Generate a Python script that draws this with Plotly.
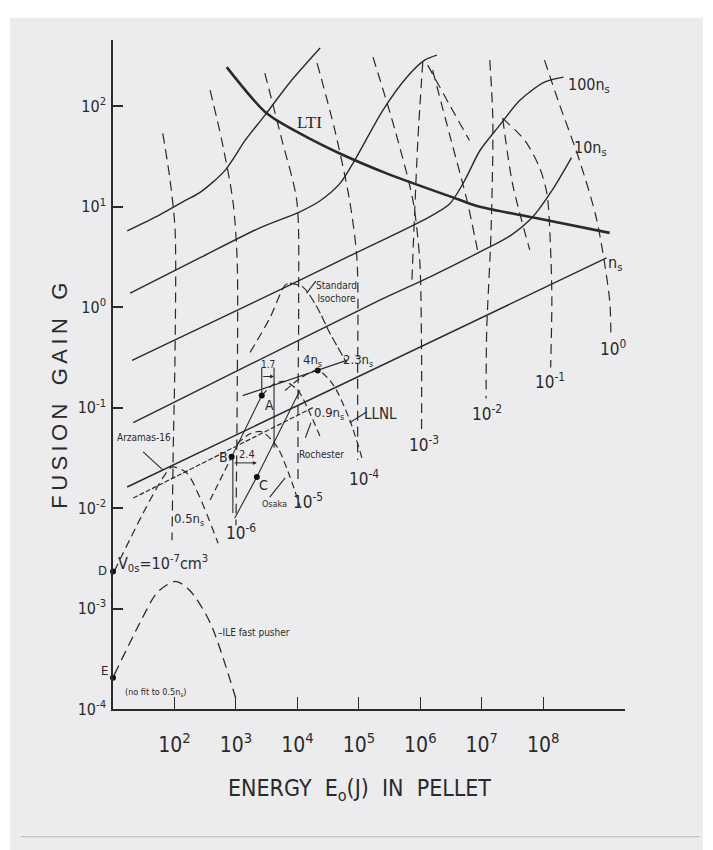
import numpy as np
import plotly.graph_objects as go

# ---------------- data (decade exponents) ----------------
# log10 of pellet energy E0 (J) and log10 of fusion gain G
lti_logE = [2.85, 3.50, 4.04, 4.69, 5.46, 6.59, 6.97, 7.86, 9.08]
lti_logG = [2.39, 1.93, 1.73, 1.53, 1.33, 1.08, 1.00, 0.89, 0.74]

s1_logE = [1.23, 1.76, 2.17, 2.41, 2.82, 3.15, 3.47, 3.88, 4.37]
s1_logG = [0.76, 0.92, 1.06, 1.14, 1.36, 1.66, 1.91, 2.24, 2.58]

s2_logE = [1.28, 2.41, 3.39, 4.04, 4.37, 4.69, 4.93, 5.39, 5.78, 6.07, 6.27]
s2_logG = [0.14, 0.49, 0.79, 0.95, 1.06, 1.23, 1.46, 1.96, 2.29, 2.46, 2.51]

ns100_logE = [1.31, 3.23, 4.85, 6.15, 6.48, 6.72, 6.97, 7.29, 7.62, 8.02, 8.33]
ns100_logG = [-0.53, 0.03, 0.51, 0.90, 1.03, 1.26, 1.56, 1.81, 2.06, 2.24, 2.29]

ns10_logE = [1.33, 3.23, 5.34, 6.15, 6.97, 7.46, 7.83, 8.14, 8.46]
ns10_logG = [-1.15, -0.57, 0.07, 0.30, 0.55, 0.71, 0.90, 1.16, 1.49]

ns1_logE = [1.23, 9.03]
ns1_logG = [-1.79, 0.49]

ns09_logE = [1.33, 4.25]
ns09_logG = [-1.90, -1.00]

ns23_logE = [3.11, 4.80]
ns23_logG = [-0.88, -0.53]

# volume contours V0s = 1e-7 ... 1e0 cm^3
vol_exponents = [-7, -6, -5, -4, -3, -2, -1, 0]
cm7_logE = [1.81, 1.93, 2.01, 2.01, 1.98, 1.96]
cm7_logG = [1.73, 1.26, 0.77, -0.43, -1.42, -2.32]
cm6_logE = [2.58, 2.77, 2.95, 3.02, 3.02, 3.00]
cm6_logG = [2.16, 1.66, 1.06, 0.47, -0.93, -2.17]
cm5_logE = [3.47, 3.75, 3.99, 4.02, 4.01, 4.01]
cm5_logG = [2.33, 1.66, 1.06, 0.07, -0.93, -1.72]
cm4_logE = [4.32, 4.61, 4.85, 4.97, 4.98, 4.98]
cm4_logG = [2.43, 1.76, 1.06, 0.47, -0.73, -1.52]
cm3_logE = [5.23, 5.59, 5.88, 5.99, 6.02, 6.02]
cm3_logG = [2.49, 1.76, 1.06, 0.47, -0.43, -1.22]
cm2_logE = [7.13, 7.18, 7.15, 7.08, 7.07]
cm2_logG = [2.46, 1.86, 0.74, -0.23, -0.91]
cm1_logE = [7.34, 7.70, 7.94, 8.06, 8.12, 8.14, 8.12]
cm1_logG = [1.88, 1.66, 1.39, 1.13, 0.57, 0.07, -0.60]
c0_logE = [8.02, 8.24, 8.59, 8.87, 9.08, 9.10]
c0_logG = [2.46, 2.06, 1.46, 0.87, 0.07, -0.30]

# extra dashed lines fanning out from the ignition vertices
fanA_logE = [6.04, 5.96, 5.86]
fanA_logG = [2.44, 1.66, 0.22]
fanB_logE = [6.12, 6.48, 6.80]
fanB_logG = [2.41, 2.01, 1.66]
fanC_logE = [6.20, 6.48, 6.76, 6.93]
fanC_logG = [2.36, 1.71, 1.06, 0.57]
fanD_logE = [7.34, 7.50, 7.78]
fanD_logG = [1.88, 1.23, 0.57]

# experiment / model curves
iso_logE = [3.23, 3.55, 3.80, 3.88, 4.09, 4.32, 4.53, 4.80]
iso_logG = [-0.45, -0.11, 0.22, 0.24, 0.20, 0.00, -0.26, -0.55]
llnl_logE = [3.80, 4.04, 4.33, 4.58, 4.85, 5.05]
llnl_logG = [-0.83, -0.71, -0.63, -0.77, -1.12, -1.50]
roch_logE = [3.42, 3.63, 3.80, 4.01, 4.20, 4.37]
roch_logG = [-0.88, -0.76, -0.74, -0.83, -1.05, -1.29]
osaka_logE = [3.02, 3.23, 3.42, 3.67, 3.88, 4.04]
osaka_logG = [-1.36, -1.26, -1.24, -1.39, -1.69, -1.98]
arz_logE = [1.02, 1.49, 1.81, 1.96, 2.20, 2.41, 2.71]
arz_logG = [-2.63, -2.05, -1.70, -1.59, -1.65, -1.89, -2.35]
ile_logE = [1.02, 1.44, 1.72, 2.02, 2.25, 2.58, 3.02]
ile_logG = [-3.66, -3.14, -2.84, -2.73, -2.82, -3.14, -3.94]

toB_logE = [2.58, 2.93]
toB_logG = [-1.92, -1.49]
BA_logE = [2.93, 3.42]
BA_logG = [-1.49, -0.88]
Cline_logE = [2.98, 3.34, 4.04]
Cline_logG = [-2.10, -1.69, -0.83]
Bvert_logE = [2.95, 2.95]
Bvert_logG = [-1.49, -2.05]
Avert_logE = [3.42, 3.42]
Avert_logG = [-0.88, -0.60]
Rvert_logE = [3.62, 3.62]
Rvert_logG = [-0.60, -1.40]

# marked points
pt_names = ["A", "B", "C", "D", "E", ""]
pt_logE = [3.42, 2.93, 3.34, 1.00, 1.00, 4.33]
pt_logG = [-0.88, -1.49, -1.69, -2.63, -3.69, -0.63]

# pointer strokes of labels
ptr_osaka = ([3.55, 3.80], [-1.89, -1.70])
ptr_roch = ([4.13, 4.22], [-1.30, -1.15])
ptr_llnl = ([4.85, 5.13], [-1.15, -1.04])
ptr_iso = ([4.15, 4.30], [0.14, 0.26])
ptr_arz = ([1.49, 1.81], [-1.44, -1.62])

x_tick_exp = [2, 3, 4, 5, 6, 7, 8]
y_tick_exp = [-4, -3, -2, -1, 0, 1, 2]

# ---------------- figure ----------------
INK = "#2a2a2a"
NARROW = "Liberation Sans Narrow, DejaVu Sans Condensed, Arial Narrow, sans-serif"

fig = go.Figure()


def P(v):
    return np.power(10.0, np.asarray(v, dtype=float))


def add(le, lg, width=1.3, dash="solid", shape="spline", color=INK):
    fig.add_trace(go.Scatter(x=P(le), y=P(lg), mode="lines",
                             line=dict(color=color, width=width, dash=dash, shape=shape,
                                       smoothing=0.8),
                             hoverinfo="skip", showlegend=False))


# density curves (solid)
for le, lg in [(s1_logE, s1_logG), (s2_logE, s2_logG), (ns100_logE, ns100_logG),
               (ns10_logE, ns10_logG)]:
    add(le, lg, width=1.4)
add(ns1_logE, ns1_logG, width=1.4, shape="linear")
add(ns23_logE, ns23_logG, width=1.2, shape="linear")
add(ns09_logE, ns09_logG, width=1.2, dash="5px,2px", shape="linear")
# LTI (thick)
add(lti_logE, lti_logG, width=2.6)

# volume contours (long dashes)
for le, lg in [(cm7_logE, cm7_logG), (cm6_logE, cm6_logG), (cm5_logE, cm5_logG),
               (cm4_logE, cm4_logG), (cm3_logE, cm3_logG), (cm2_logE, cm2_logG),
               (cm1_logE, cm1_logG), (c0_logE, c0_logG),
               (fanA_logE, fanA_logG), (fanB_logE, fanB_logG),
               (fanC_logE, fanC_logG), (fanD_logE, fanD_logG)]:
    add(le, lg, width=1.2, dash="10px,6px")

# model / experiment curves
add(iso_logE[:4], iso_logG[:4], width=1.2, dash="9px,5px")
add(iso_logE[3:], iso_logG[3:], width=1.2, dash="9px,3px")
add(llnl_logE, llnl_logG, width=1.2, dash="7px,4px")
add(roch_logE, roch_logG, width=1.2, dash="7px,4px")
add(osaka_logE, osaka_logG, width=1.2, dash="7px,4px")
add(arz_logE, arz_logG, width=1.2, dash="8px,5px")
add(ile_logE, ile_logG, width=1.3, dash="10px,6px")
add(toB_logE, toB_logG, width=1.2, dash="7px,4px", shape="linear")
for le, lg in [(BA_logE, BA_logG), (Cline_logE, Cline_logG), (Bvert_logE, Bvert_logG),
               (Avert_logE, Avert_logG), (Rvert_logE, Rvert_logG),
               ptr_osaka, ptr_roch, ptr_llnl, ptr_iso, ptr_arz]:
    add(le, lg, width=1.1, shape="linear")

fig.add_trace(go.Scatter(x=P(pt_logE), y=P(pt_logG), mode="markers",
                         marker=dict(color="#111", size=6), cliponaxis=False,
                         hoverinfo="skip", showlegend=False))

# ---------------- labels ----------------
ann = []


def lab(x, y, text, size=14, family=NARROW, **kw):
    d = dict(x=x, y=y, xref="x", yref="y", text=text, showarrow=False,
             font=dict(family=family, size=size, color=INK))
    d.update(kw)
    ann.append(d)


lab(4.20, 1.84, "LTI", 17, "Liberation Serif, DejaVu Serif, serif")
lab(8.74, 2.21, "100n<sub>s</sub>", 16)
lab(8.77, 1.58, "10n<sub>s</sub>", 16)
lab(9.16, 0.44, "n<sub>s</sub>", 16)
lab(4.63, 0.15, "Standard<br>Isochore", 10)
lab(4.24, -0.53, "4n<sub>s</sub>", 13)
lab(4.98, -0.53, "2.3n<sub>s</sub>", 13)
lab(3.52, -0.57, "1.7", 10)
lab(3.54, -0.97, "A", 14)
lab(2.79, -1.49, "B", 14)
lab(3.45, -1.77, "C", 14)
lab(3.18, -1.47, "2.4", 11)
lab(4.52, -1.06, "0.9n<sub>s</sub>", 13)
lab(5.36, -1.06, "LLNL", 15)
lab(4.39, -1.47, "Rochester", 10)
lab(3.62, -1.96, "Osaka", 9)
lab(1.50, -1.30, "Arzamas-16", 10)
lab(2.24, -2.11, "0.5n<sub>s</sub>", 13)
lab(1.82, -2.55, "V<sub>0s</sub>=10<sup>-7</sup>cm<sup>3</sup>", 16)
vol_pos = [(None, None), (3.08, -2.24), (4.17, -1.93), (5.08, -1.70), (6.06, -1.36),
           (7.08, -1.05), (8.11, -0.73), (9.13, -0.41)]
for ex, (xx, yy) in zip(vol_exponents, vol_pos):
    if xx is not None:
        lab(xx, yy, "10<sup>%d</sup>" % ex, 17)
lab(3.30, -3.24, "–ILE fast pusher", 10)
lab(1.70, -3.84, "(no fit to 0.5n<sub>s</sub>)", 9)
lab(1.0, -2.62, "D", 13, xanchor="right", xshift=-4)
lab(1.0, -3.62, "E", 13, xanchor="right", xshift=-3)

# axis titles
TS = "\u2009"
ann.append(dict(x=-0.104, y=0.468, xref="paper", yref="paper", showarrow=False,
                xanchor="center", yanchor="middle",
                text=TS.join("FUSION") + "   " + TS.join("GAIN") + "   G", textangle=-90,
                font=dict(family="Liberation Sans, DejaVu Sans, sans-serif", size=22, color=INK)))
ann.append(dict(x=0.482, y=-0.121, xref="paper", yref="paper", showarrow=False,
                xanchor="center", yanchor="middle",
                text="ENERGY  E<sub>o</sub>(J)  IN  PELLET",
                font=dict(family=NARROW, size=23, color=INK)))

# arrows for 2.4 and 1.7 brackets
ann.append(dict(x=3.34, y=-1.55, ax=2.95, ay=-1.55, xref="x", yref="y", axref="x", ayref="y",
                showarrow=True, arrowhead=2, arrowsize=0.8, arrowwidth=1, arrowcolor=INK, text=""))
ann.append(dict(x=3.62, y=-0.69, ax=3.42, ay=-0.69, xref="x", yref="y", axref="x", ayref="y",
                showarrow=True, arrowhead=2, arrowsize=0.8, arrowwidth=1, arrowcolor=INK, text=""))

fig.update_layout(
    width=713, height=850,
    margin=dict(l=113, r=88, t=40, b=141),
    paper_bgcolor="#ffffff",
    plot_bgcolor="rgba(0,0,0,0)",
    annotations=ann,
    shapes=[
        dict(type="rect", xref="paper", yref="paper", x0=-0.201, x1=1.152, y0=-0.211, y1=1.033,
             fillcolor="#ececee", line=dict(width=0), layer="below"),
        dict(type="line", xref="paper", yref="paper", x0=-0.18, x1=1.146, y0=-0.191, y1=-0.191,
             line=dict(color="#b5b5b5", width=1)),
    ],
    xaxis=dict(type="log", range=[1, 9.33], showgrid=False, zeroline=False,
               showline=True, linecolor=INK, linewidth=2, mirror=False,
               ticks="inside", ticklen=12, tickwidth=1.2, tickcolor=INK,
               tickvals=[10.0 ** e for e in x_tick_exp],
               ticktext=["10<sup>%d</sup>" % e for e in x_tick_exp],
               ticklabelstandoff=16,
               tickfont=dict(family=NARROW, size=21, color=INK)),
    yaxis=dict(type="log", range=[-4, 2.66], showgrid=False, zeroline=False,
               showline=True, linecolor=INK, linewidth=1.5, mirror=False,
               ticks="inside", ticklen=10, tickwidth=1.5, tickcolor=INK,
               tickvals=[10.0 ** e for e in y_tick_exp],
               ticktext=["10<sup>%d</sup>" % e for e in y_tick_exp],
               ticklabelstandoff=2,
               tickfont=dict(family=NARROW, size=16, color=INK)),
)

fig.write_html("out.html")
